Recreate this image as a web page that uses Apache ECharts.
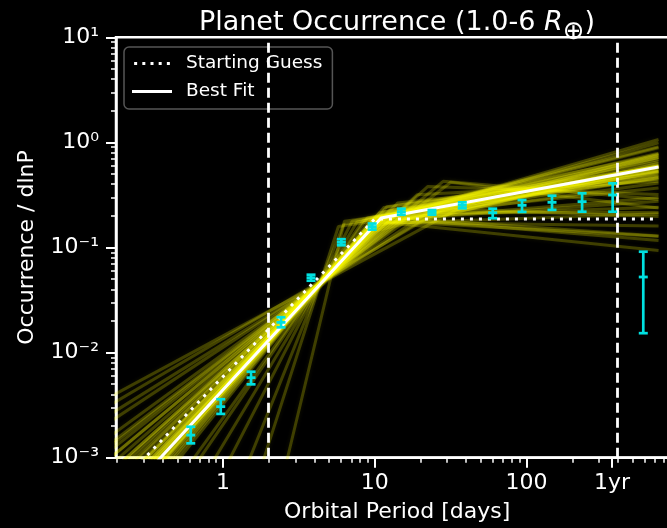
<!DOCTYPE html>
<html><head><meta charset="utf-8">
<script src="https://cdn.jsdelivr.net/npm/echarts@6/dist/echarts.min.js"></script>
<style>html,body{margin:0;padding:0;background:#000;}#c{width:667px;height:528px;}</style>
</head><body><div id="c"></div>
<script>
// ---------------- data ----------------
const periodDays = [0.613, 0.966, 1.53, 2.41, 3.80, 6.02, 9.61, 14.95, 23.8, 37.7, 59.8, 93.3, 147, 232, 369, 587];
const occurrence = [0.00164, 0.00306, 0.00577, 0.0194, 0.0516, 0.112, 0.158, 0.219, 0.216, 0.252, 0.214, 0.252, 0.269, 0.273, 0.316, 0.0524];
const occLow     = [0.00137, 0.00261, 0.00499, 0.0174, 0.0483, 0.105, 0.148, 0.205, 0.205, 0.236, 0.190, 0.218, 0.228, 0.219, 0.219, 0.0153];
const occHigh    = [0.00197, 0.00360, 0.00658, 0.0217, 0.0551, 0.120, 0.169, 0.234, 0.227, 0.269, 0.234, 0.283, 0.311, 0.328, 0.408, 0.0912];

// broken power laws (straight segments on log-log)
const guessP = [0.18, 10, 740];
const guessY = [0.000451, 0.187, 0.187];
const bestP = [0.18, 11, 740];
const bestY = [0.00030, 0.191, 0.583];

// posterior sample lines, in decades (log10): start at P=0.18, break, end at P=740
const fanStartP = 0.18, fanEndP = 740;
const fanStartLogY = [-3.42,-3.48,-3.57,-3.35,-3.61,-3.45,-3.53,-3.41,-3.69,-3.27,-3.585,-3.48,-3.765,-3.32,-3.64,-3.42,-3.54,-3.46,-3.83,-3.37,-3.515,-3.61,-3.25,-3.72,
  -2.866,-2.658,-3.004,-2.50,-2.796,-3.073,-2.422,-3.14,-2.588,-2.935,
  -4.25,-4.665,-4.11,-5.22,-6.32,-7.57,-10.02,
  -3.14,-3.004,-3.17,-2.893,
  -3.488,-3.35,-3.585,-3.21,-3.53];
const fanBreakLogP = [1.00,1.05,1.02,1.08,1.00,1.10,0.98,1.04,1.03,1.12,1.06,0.96,1.00,1.00,1.08,1.15,0.99,1.03,0.98,1.07,1.04,1.01,1.05,1.06,
  1.20,1.35,1.15,1.45,1.25,1.10,1.55,1.12,1.30,1.18,
  0.926,0.882,0.95,0.851,0.795,0.76,0.80,
  1.35,1.45,1.28,1.50,
  1.02,1.05,1.00,1.10,1.04];
const fanBreakLogY = [-0.80,-0.696,-0.743,-0.704,-0.727,-0.642,-0.804,-0.77,-0.668,-0.66,-0.661,-0.835,-0.711,-0.84,-0.611,-0.577,-0.761,-0.745,-0.729,-0.699,-0.713,-0.748,-0.776,-0.619,
  -0.726,-0.668,-0.73,-0.634,-0.701,-0.767,-0.632,-0.718,-0.748,-0.721,
  -0.74,-0.76,-0.72,-0.75,-0.78,-0.80,-0.75,
  -0.419,-0.37,-0.497,-0.379,
  -0.752,-0.747,-0.758,-0.721,-0.709];
const fanEndLogY = [-0.24,-0.24,-0.225,-0.31,-0.13,-0.29,-0.143,-0.276,-0.227,-0.345,-0.118,-0.11,-0.225,-0.223,-0.235,-0.319,0.028,-0.524,-0.162,-0.051,-0.237,-0.004,-0.267,-0.275,
  -0.559,-0.668,-0.386,-0.705,-0.215,-0.679,-0.434,-0.281,-0.199,-0.89,
  -0.041,-0.104,-0.144,-0.185,-0.26,-0.336,-0.336,
  -0.495,-0.54,-0.37,-0.625,
  -1.029,-0.893,-0.795,-0.933,-0.618];

const vLineP = [2, 400];

// ticks
const xMajorP = [1, 10, 100, 365];
const xMajorLabels = ['1', '10', '100', '1yr'];
const xMinorP = [0.2,0.3,0.4,0.5,0.6,0.7,0.8,0.9, 2,3,4,5,6,7,8,9, 20,30,40,50,60,70,80,90, 200,300,400,500,600,700,800,900];
const yMajorV = [0.001, 0.01, 0.1, 1, 10];
const yMajorLabels = ['10\u207B\u00B3', '10\u207B\u00B2', '10\u207B\u00B9', '10\u2070', '10\u00B9'];
const yMinorV = [0.002,0.003,0.004,0.005,0.006,0.007,0.008,0.009, 0.02,0.03,0.04,0.05,0.06,0.07,0.08,0.09,
  0.2,0.3,0.4,0.5,0.6,0.7,0.8,0.9, 2,3,4,5,6,7,8,9];

// ---------------- chart ----------------
const L = Math.log10;
const FONT = 'DejaVu Sans';
const WHITE = '#ffffff';
const CYAN = '#00e0e0';

function labelFor(vals, labels) {
  return function (v) {
    const i = vals.findIndex(p => Math.abs(L(p) - v) < 1e-6);
    return i >= 0 ? labels[i] : '';
  };
}

const series = [];
for (let i = 0; i < fanBreakLogP.length; i++) {
  series.push({
    type: 'line', silent: true, symbol: 'none', z: 1, clip: true,
    lineStyle: { color: 'rgba(255,255,0,0.22)', width: 3, shadowBlur: 4, shadowColor: 'rgba(255,255,0,0.35)' },
    data: [[L(fanStartP), fanStartLogY[i]], [fanBreakLogP[i], fanBreakLogY[i]], [L(fanEndP), fanEndLogY[i]]]
  });
}
series.push({
  name: 'Best Fit', type: 'line', symbol: 'none', z: 3, clip: true, silent: true,
  itemStyle: { color: WHITE },
  lineStyle: { color: WHITE, width: 3 },
  data: bestP.map((p, i) => [L(p), L(bestY[i])])
});
series.push({
  name: 'Starting Guess', type: 'line', symbol: 'none', z: 3, clip: true, silent: true,
  itemStyle: { color: WHITE },
  lineStyle: { color: WHITE, width: 3, type: [3, 6] },
  data: guessP.map((p, i) => [L(p), L(guessY[i])]),
  markLine: {
    silent: true, symbol: 'none', label: { show: false }, z: 4,
    lineStyle: { color: WHITE, width: 2.8, type: [10, 5] },
    data: vLineP.map(p => ({ xAxis: L(p) }))
  }
});
series.push({
  type: 'custom', z: 5, silent: true,
  encode: { x: 0, y: [1, 2, 3] },
  data: periodDays.map((p, i) => [L(p), L(occurrence[i]), L(occLow[i]), L(occHigh[i])]),
  renderItem: function (params, api) {
    const c = api.coord([api.value(0), api.value(1)]);
    const lo = api.coord([api.value(0), api.value(2)]);
    const hi = api.coord([api.value(0), api.value(3)]);
    const hw = 4.5;
    const st = { stroke: CYAN, lineWidth: 2.7 };
    return {
      type: 'group', children: [
        { type: 'line', shape: { x1: c[0], y1: lo[1], x2: c[0], y2: hi[1] }, style: st },
        { type: 'line', shape: { x1: c[0] - hw, y1: lo[1], x2: c[0] + hw, y2: lo[1] }, style: st },
        { type: 'line', shape: { x1: c[0] - hw, y1: hi[1], x2: c[0] + hw, y2: hi[1] }, style: st },
        { type: 'rect', shape: { x: c[0] - 4.5, y: c[1] - 1.4, width: 9, height: 2.8 }, style: { fill: CYAN } }
      ]
    };
  }
});

const axisLineStyle = { color: WHITE, width: 2.5 };
const option = {
  backgroundColor: '#000',
  animation: false,
  title: {
    text: '{t|Planet Occurrence (1.0-6 }{i|R}{s|\u2295}{t|)}',
    left: 397, top: 9, textAlign: 'center', padding: 0,
    textStyle: {
      fontWeight: 'normal',
      rich: {
        t: { fontSize: 27, color: WHITE, fontFamily: FONT, fontWeight: 'normal', lineHeight: 27, verticalAlign: 'top' },
        i: { fontSize: 27, color: WHITE, fontFamily: FONT, fontWeight: 'normal', fontStyle: 'italic', lineHeight: 27, verticalAlign: 'top' },
        s: { fontSize: 26, color: WHITE, fontFamily: FONT, fontWeight: 'normal', lineHeight: 36, verticalAlign: 'bottom' }
      }
    }
  },
  legend: {
    data: [
      { name: 'Starting Guess', icon: 'path://M0,0h3.3v3.3h-3.3z M9,0h3.3v3.3h-3.3z M18,0h3.3v3.3h-3.3z M27,0h3.3v3.3h-3.3z M36,0h3.3v3.3h-3.3z' },
      { name: 'Best Fit', icon: 'rect' }
    ],
    orient: 'vertical', left: 124, top: 47,
    itemWidth: 40, itemHeight: 3, itemGap: 9,
    padding: [7, 10, 8, 8],
    backgroundColor: 'rgba(0,0,0,0.72)', borderColor: '#555', borderWidth: 1.5, borderRadius: 5,
    itemStyle: { color: WHITE },
    textStyle: { color: WHITE, fontSize: 18.5, fontFamily: FONT, padding: [0, 0, 0, 9] },
    selectedMode: false
  },
  grid: { left: 116, top: 37.3, width: 562.4, height: 420.4, outerBoundsMode: 'none', containLabel: false,
          show: true, borderColor: WHITE, borderWidth: 2.5, backgroundColor: 'transparent' },
  xAxis: [
    {
      type: 'value', min: -0.705, max: 3.0, position: 'bottom',
      axisLine: { show: true, onZero: false, lineStyle: axisLineStyle },
      axisTick: { show: true, customValues: xMajorP.map(L), length: 10, lineStyle: { color: WHITE, width: 2 } },
      axisLabel: { show: true, customValues: xMajorP.map(L), formatter: labelFor(xMajorP, xMajorLabels), color: WHITE, fontSize: 22, fontFamily: FONT, margin: 15 },
      splitLine: { show: false },
      name: 'Orbital Period [days]', nameLocation: 'middle', nameGap: 44,
      nameTextStyle: { color: WHITE, fontSize: 22, fontFamily: FONT }
    },
    {
      type: 'value', min: -0.705, max: 3.0, position: 'bottom',
      axisLine: { show: false, onZero: false },
      axisTick: { show: true, customValues: xMinorP.map(L), length: 5, lineStyle: { color: WHITE, width: 1.5 } },
      axisLabel: { show: false }, splitLine: { show: false }
    }
  ],
  yAxis: [
    {
      type: 'value', min: -3, max: 1, interval: 1, position: 'left',
      axisLine: { show: true, onZero: false, lineStyle: axisLineStyle },
      axisTick: { show: true, customValues: yMajorV.map(L), length: 10, lineStyle: { color: WHITE, width: 2 } },
      axisLabel: { show: true, customValues: yMajorV.map(L), formatter: labelFor(yMajorV, yMajorLabels), color: WHITE, fontSize: 22, fontFamily: FONT, margin: 17 },
      splitLine: { show: false },
      name: 'Occurrence / dlnP', nameLocation: 'middle', nameGap: 78, nameRotate: 90,
      nameTextStyle: { color: WHITE, fontSize: 22, fontFamily: FONT }
    },
    {
      type: 'value', min: -3, max: 1, position: 'left',
      axisLine: { show: false, onZero: false },
      axisTick: { show: true, customValues: yMinorV.map(L), length: 5, lineStyle: { color: WHITE, width: 1.5 } },
      axisLabel: { show: false }, splitLine: { show: false }
    }
  ],
  series: series
};

const chart = echarts.init(document.getElementById('c'), null, { renderer: 'canvas' });
chart.setOption(option);
</script>
</body></html>
